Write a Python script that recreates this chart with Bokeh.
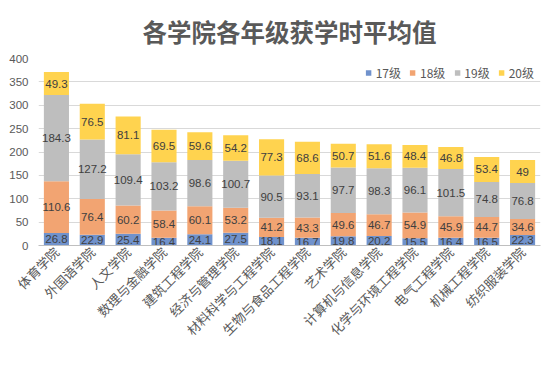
from math import pi
from bokeh.plotting import figure
from bokeh.models import FactorRange, Range1d, ColumnDataSource, Legend, LegendItem
from bokeh.core.properties import value
from bokeh.embed import file_html
from bokeh.resources import INLINE

colleges = ["体育学院", "外国语学院", "人文学院", "数理与金融学院", "建筑工程学院", "经济与管理学院",
            "材料科学与工程学院", "生物与食品工程学院", "艺术学院", "计算机与信息学院",
            "化学与环境工程学院", "电气工程学院", "机械工程学院", "纺织服装学院"]
grades = ["17级", "18级", "19级", "20级"]
g17 = [26.8, 22.9, 25.4, 16.4, 24.1, 27.5, 18.1, 16.7, 19.8, 20.2, 15.5, 16.4, 16.5, 22.3]
g18 = [110.6, 76.4, 60.2, 58.4, 60.1, 53.2, 41.2, 43.3, 49.6, 46.7, 54.9, 45.9, 44.7, 34.6]
g19 = [184.3, 127.2, 109.4, 103.2, 98.6, 100.7, 90.5, 93.1, 97.7, 98.3, 96.1, 101.5, 74.8, 76.8]
g20 = [49.3, 76.5, 81.1, 69.5, 59.6, 54.2, 77.3, 68.6, 50.7, 51.6, 48.4, 46.8, 53.4, 49]
y_ticks = [0, 50, 100, 150, 200, 250, 300, 350, 400]

colors = ["#7092CC", "#F2A472", "#BEBEBE", "#FFD34F"]
series = [g17, g18, g19, g20]

CJK = "Noto Sans CJK SC"
NUM = "Liberation Sans"

data = {"college": colleges}
for g, s in zip(grades, series):
    data[g] = s
src = ColumnDataSource(data)

p = figure(x_range=FactorRange(*colleges, range_padding=0), y_range=Range1d(0, 400),
           frame_width=502, frame_height=187, output_backend="svg", toolbar_location=None,
           min_border_left=38, min_border_right=13, min_border_top=58, min_border_bottom=10,
           title="各学院各年级获学时平均值")
p.title.align = "center"
p.title.text_font = CJK
p.title.text_font_size = "24.5px"
p.title.text_font_style = "bold"
p.title.text_color = "#595959"
p.title.standoff = 20
p.outline_line_color = None
p.background_fill_color = "white"
p.border_fill_color = "white"

renderers = p.vbar_stack(grades, x="college", width=0.7, color=colors, source=src, line_color=None)

# data labels
for i, s in enumerate(series):
    base = [sum(series[k][j] for k in range(i)) for j in range(len(colleges))]
    mids = [b + v / 2 for b, v in zip(base, s)]
    lsrc = ColumnDataSource(dict(x=colleges, y=mids, t=[("%g" % v) for v in s]))
    p.text(x="x", y="y", text="t", source=lsrc, text_align="center", text_baseline="middle",
           text_font=value(NUM), text_font_size="11.5px", text_color="#404040")

p.xgrid.grid_line_color = None
p.ygrid.grid_line_color = "#D9D9D9"
p.ygrid.ticker = y_ticks
p.yaxis.ticker = y_ticks
p.yaxis.axis_line_color = None
p.yaxis.major_tick_line_color = None
p.yaxis.minor_tick_line_color = None
p.yaxis.major_tick_out = 0
p.yaxis.major_tick_in = 0
p.yaxis.major_label_text_font = NUM
p.yaxis.major_label_text_font_size = "11.5px"
p.yaxis.major_label_text_color = "#595959"
p.yaxis.major_label_standoff = 10

p.xaxis.axis_line_color = "#BFBFBF"
p.xaxis.major_tick_line_color = None
p.xaxis.major_tick_out = 0
p.xaxis.major_tick_in = 0
p.xaxis.major_label_orientation = pi / 4
p.xaxis.major_label_text_font = CJK
p.xaxis.major_label_text_font_size = "13px"
p.xaxis.major_label_text_color = "#595959"
p.xaxis.major_label_standoff = 4

legend = Legend(items=[LegendItem(label=g, renderers=[r]) for g, r in zip(grades, renderers)],
                orientation="horizontal", location="top_right",
                label_text_font=CJK, label_text_font_size="12px", label_text_color="#595959",
                glyph_width=7, glyph_height=7, label_standoff=4, spacing=8, label_height=14,
                border_line_color=None, background_fill_alpha=0, padding=2, margin=6)
p.add_layout(legend, "center")

open("out.html", "w").write(file_html(p, INLINE))
